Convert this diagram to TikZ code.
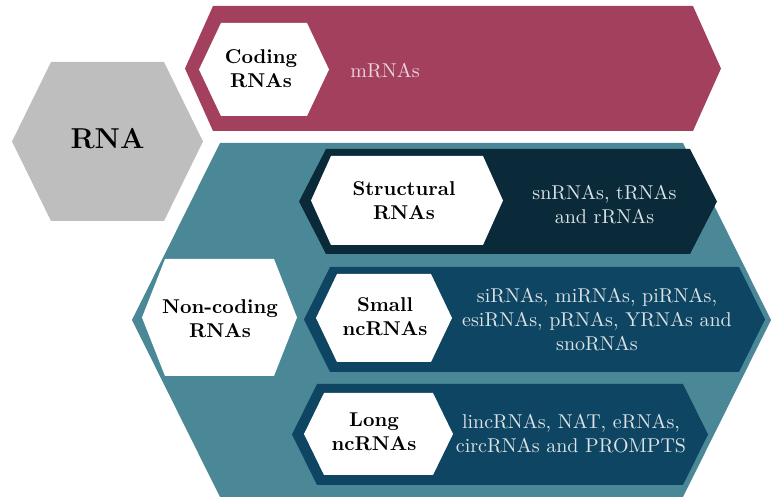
\documentclass[tikz,border=0pt]{standalone}
\definecolor{rnagray}{HTML}{BEBEBE}
\definecolor{codingred}{HTML}{A3405E}
\definecolor{noncodingteal}{HTML}{4A8898}
\definecolor{structdark}{HTML}{0A2A3A}
\definecolor{ncdark}{HTML}{0E4562}
\definecolor{desclight}{HTML}{DCE2E6}
\definecolor{mrnapink}{HTML}{EDD5DC}

% Hexagon with flat top and bottom:
% #1 fill style, #2 left tip x, #3 right tip x, #4 slant inset, #5 top y, #6 bottom y
\newcommand{\hexfill}[6]{%
  \fill[#1] (#2,{(#5+#6)/2}) -- ({#2+#4},#5) -- ({#3-#4},#5)
    -- (#3,{(#5+#6)/2}) -- ({#3-#4},#6) -- ({#2+#4},#6) -- cycle;}

\tikzset{
  hexlabel/.style={font=\bfseries, align=center, text=black, inner sep=0pt},
  hextitle/.style={font=\Large\bfseries, text=black, inner sep=0pt},
  hexdesc/.style={align=center, text=desclight, inner sep=0pt},
}

\begin{document}
\begin{tikzpicture}[x=0.5pt,y=-0.5pt]
\useasboundingbox (0,0) rectangle (773,497);
\clip (0,0) rectangle (773,497);

% root
\hexfill{rnagray}{12}{203}{39}{62}{221}
\node[hextitle] (rna) at (107.5,139) {RNA};

% coding branch
\hexfill{codingred}{185}{721}{28}{6}{131}
\hexfill{white}{199}{329}{22}{23}{116}
\node[hexlabel] (coding) at (261,69) {Coding\\RNAs};
\node[hexdesc, text=mrnapink] (mrna) at (385,71) {mRNAs};

% non-coding branch
\hexfill{noncodingteal}{132}{771}{88}{143}{497}
\hexfill{white}{142}{297}{23}{259}{376}
\node[hexlabel] (noncoding) at (220,319) {Non-coding\\RNAs};

% structural RNAs
\hexfill{structdark}{299}{717}{27}{149}{254}
\hexfill{white}{311}{503}{20}{156}{245}
\node[hexlabel] (structural) at (404,201) {Structural\\RNAs};
\node[hexdesc] (structlist) at (604.5,205) {snRNAs, tRNAs\\and rRNAs};

% small ncRNAs
\hexfill{ncdark}{304}{765}{26}{267}{372}
\hexfill{white}{316}{452}{21}{274}{362}
\node[hexlabel] (small) at (385,317) {Small\\ncRNAs};
\node[hexdesc] (smalllist) at (597,320) {siRNAs, miRNAs, piRNAs,\\esiRNAs, pRNAs, YRNAs and\\snoRNAs};

% long ncRNAs
\hexfill{ncdark}{292}{708}{25}{384}{485}
\hexfill{white}{304}{453}{20}{393}{475}
\node[hexlabel] (long) at (374,432) {Long\\ncRNAs};
\node[hexdesc] (longlist) at (571,434) {lincRNAs, NAT, eRNAs,\\circRNAs and PROMPTS};
\end{tikzpicture}
\end{document}
